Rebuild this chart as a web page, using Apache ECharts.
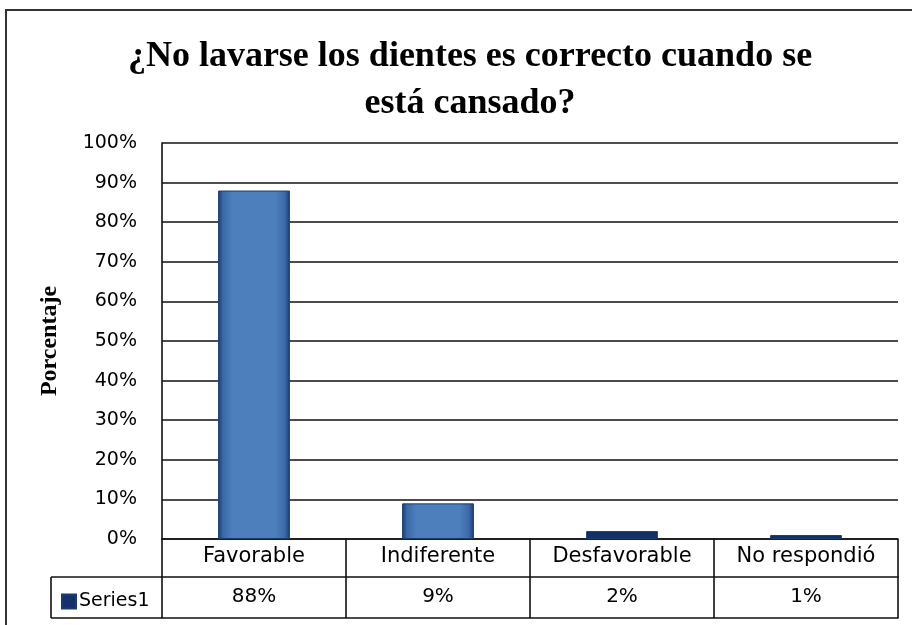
<!DOCTYPE html>
<html>
<head>
<meta charset="utf-8">
<script src="https://cdn.jsdelivr.net/npm/echarts@6/dist/echarts.min.js"></script>
<style>html,body{margin:0;padding:0;background:#fff;}#c{width:912px;height:625px;}</style>
</head>
<body>
<div id="c"></div>
<script>
var categories = ['Favorable', 'Indiferente', 'Desfavorable', 'No respondió'];
var values = [88, 9, 2, 1];
var seriesName = 'Series1';
var titleText = '¿No lavarse los dientes es correcto cuando se\nestá cansado?';
var yAxisName = 'Porcentaje';

var chart = echarts.init(document.getElementById('c'));
var sans = '"DejaVu Sans", sans-serif';
var serif = '"Liberation Serif", "Times New Roman", serif';
var barGrad = new echarts.graphic.LinearGradient(0, 0, 1, 0, [
  {offset: 0, color: '#1a3b72'},
  {offset: 0.07, color: '#3a6aa8'},
  {offset: 0.2, color: '#4e7fbd'},
  {offset: 0.8, color: '#4e7fbd'},
  {offset: 0.93, color: '#3a6aa8'},
  {offset: 1, color: '#1a3b72'}
]);
var line = {color: '#111', width: 1.6};

chart.setOption({
  animation: false,
  title: {
    text: titleText,
    left: 465, top: 28, textAlign: 'center',
    textStyle: {fontFamily: serif, fontWeight: 'bold', fontSize: 36, lineHeight: 47, color: '#000'}
  },
  legend: {
    left: 56, top: 587, itemWidth: 14, itemHeight: 14, itemGap: 6,
    data: [{name: seriesName, icon: 'rect', itemStyle: {color: '#13306a'}}],
    textStyle: {fontFamily: sans, fontSize: 19, color: '#000', padding: [0, 0, 0, -2]},
    selectedMode: false
  },
  grid: {left: 162, right: 14, top: 143, bottom: 86, containLabel: false},
  xAxis: [
    {
      type: 'category', data: categories, position: 'bottom',
      axisLine: {show: true, lineStyle: line},
      axisTick: {show: true, alignWithLabel: false, length: 79, lineStyle: line},
      axisLabel: {fontFamily: sans, fontSize: 21, color: '#000', margin: 7, interval: 0}
    },
    {
      type: 'category', data: categories, position: 'bottom', offset: 38,
      axisLine: {show: true, lineStyle: line},
      axisTick: {show: false},
      axisLabel: {fontFamily: sans, fontSize: 20, color: '#000', margin: 10, interval: 0,
        formatter: function (v, i) { return values[i] + '%'; }}
    },
    {
      type: 'category', data: categories, position: 'bottom', offset: 79,
      axisLine: {show: true, lineStyle: line},
      axisTick: {show: false}, axisLabel: {show: false}
    }
  ],
  yAxis: {
    type: 'value', min: 0, max: 100, interval: 10,
    name: yAxisName, nameLocation: 'middle', nameGap: 100, nameRotate: 90,
    nameTextStyle: {fontFamily: serif, fontWeight: 'bold', fontSize: 24, color: '#000'},
    axisLine: {show: true, lineStyle: line},
    axisTick: {show: false},
    splitLine: {show: true, lineStyle: line},
    axisLabel: {fontFamily: sans, fontSize: 19, color: '#000', margin: 25, formatter: '{value}%'}
  },
  series: [{
    name: seriesName, type: 'bar', xAxisIndex: 0, data: values, barWidth: '39%',
    itemStyle: {
      color: function (p) { return p.value < 5 ? '#122f66' : barGrad; },
      borderColor: '#1b3c73', borderWidth: 1
    }
  }],
  graphic: [
    {type: 'rect', silent: true, z: -1, shape: {x: 6, y: 10, width: 940, height: 640},
      style: {fill: 'none', stroke: '#333', lineWidth: 2}},
    {type: 'line', silent: true, shape: {x1: 51, y1: 577, x2: 162, y2: 577}, style: {stroke: '#111', lineWidth: 1.6}},
    {type: 'line', silent: true, shape: {x1: 51, y1: 618, x2: 162, y2: 618}, style: {stroke: '#111', lineWidth: 1.6}},
    {type: 'line', silent: true, shape: {x1: 51, y1: 577, x2: 51, y2: 618}, style: {stroke: '#111', lineWidth: 1.6}}
  ]
});
</script>
</body>
</html>
